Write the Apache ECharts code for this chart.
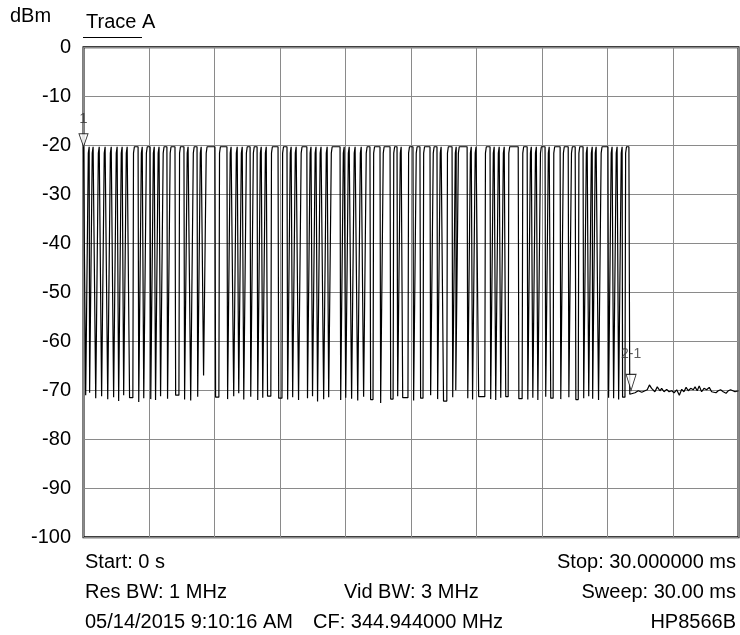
<!DOCTYPE html>
<html>
<head>
<meta charset="utf-8">
<script src="https://cdn.jsdelivr.net/npm/echarts@6/dist/echarts.min.js"></script>
<style>
html,body{margin:0;padding:0;background:#fff;}
#chart{width:740px;height:635px;}
</style>
</head>
<body>
<div id="chart"></div>
<script>
// ---- values (time in ms, level in dBm) ----
const yTicks = [0, -10, -20, -30, -40, -50, -60, -70, -80, -90, -100];
const highLevel = -20.3;
const dropStart = [0.07,0.25,0.53,0.80,1.08,1.35,1.58,1.81,2.08,2.50,
  2.73,3.05,3.27,3.50,3.82,4.19,4.60,4.88,5.20,5.47,
  6.02,6.57,6.85,7.08,7.31,7.63,7.95,8.18,8.40,8.91,
  9.32,9.55,9.82,10.23,10.46,10.69,10.97,11.20,11.75,11.98,
  12.25,12.53,12.80,13.12,13.58,14.04,14.36,14.59,15.09,15.41,
  15.87,16.19,16.46,16.88,17.02,17.57,17.79,18.07,18.62,18.85,
  19.08,19.31,19.91,20.32,20.55,20.78,21.14,21.37,21.83,22.20,
  22.52,22.88,23.11,23.29,23.56,24.02,24.25,24.48,24.66];
const dropWidth = [0.15,0.15,0.15,0.15,0.15,0.15,0.15,0.15,0.21,0.15,
  0.15,0.15,0.15,0.15,0.15,0.21,0.15,0.15,0.15,0.15,
  0.21,0.15,0.15,0.15,0.15,0.15,0.15,0.15,0.21,0.21,
  0.15,0.15,0.15,0.15,0.15,0.15,0.15,0.15,0.15,0.15,
  0.15,0.15,0.15,0.17,0.15,0.17,0.15,0.30,0.15,0.17,
  0.15,0.15,0.21,0.15,0.15,0.15,0.15,0.34,0.15,0.15,
  0.15,0.17,0.21,0.15,0.15,0.15,0.15,0.17,0.15,0.15,
  0.17,0.15,0.15,0.15,0.15,0.15,0.15,0.15,0.17];
const dropLow = [-71.0,-70.5,-71.6,-71.2,-71.8,-71.4,-72.2,-71.0,-71.5,-72.4,
  -71.6,-71.8,-72.0,-71.2,-71.7,-71.0,-71.9,-72.1,-71.3,-67.0,
  -71.4,-71.8,-71.2,-70.6,-71.9,-71.3,-72.0,-71.5,-71.2,-71.6,
  -71.9,-71.4,-72.0,-71.6,-71.2,-72.3,-71.8,-71.4,-72.0,-71.5,
  -71.7,-72.1,-71.3,-71.9,-72.6,-71.8,-71.2,-71.5,-72.1,-71.6,
  -71.0,-71.8,-72.2,-71.4,-70.0,-71.6,-71.9,-71.3,-71.8,-72.0,
  -71.5,-71.3,-71.7,-71.9,-71.5,-72.0,-71.3,-71.6,-71.8,-71.4,
  -71.9,-71.6,-71.2,-71.7,-72.0,-71.5,-71.6,-71.9,-71.4];
const burstEnd = 24.98;
const tailTime = [25.02,25.11,25.26,25.41,25.57,25.72,25.82,25.92,26.02,26.10,
  26.17,26.28,26.40,26.48,26.59,26.71,26.82,26.94,27.05,27.17,
  27.29,27.40,27.50,27.60,27.70,27.81,27.93,28.01,28.11,28.20,
  28.31,28.42,28.54,28.66,28.77,28.84,28.97,29.07,29.18,29.30,
  29.43,29.53,29.64,29.73,29.84,29.92,30.00];
const tailLevel = [-70.8,-70.6,-70.5,-70.1,-70.4,-70.1,-69.9,-68.9,-69.6,-69.3,
  -70.3,-69.3,-70.1,-69.6,-70.3,-69.8,-70.3,-70.1,-70.5,-69.9,
  -71.0,-69.8,-70.3,-69.4,-70.1,-69.6,-69.9,-69.3,-70.1,-69.1,
  -70.3,-69.6,-69.9,-69.4,-70.3,-69.9,-70.5,-70.1,-69.9,-70.3,
  -70.6,-70.1,-69.9,-69.6,-70.3,-69.9,-70.1];
const markerTime = [0.0, 25.08];
const markerLevel = [-20.3, -70.0];
const markerName = ['1', '2-1'];

// ---- build the trace table ----
const trace = [[0, highLevel]];
for (let i = 0; i < dropStart.length; i++) {
  const s = dropStart[i], w = dropWidth[i], lo = dropLow[i];
  trace.push([s, highLevel]);
  trace.push([s + 0.03, lo]);
  trace.push([s + w - 0.03, lo]);
  trace.push([s + w, -21.6]);
  trace.push([s + w + 0.04, highLevel]);
}
trace.push([burstEnd, highLevel]);
for (let i = 0; i < tailTime.length; i++) trace.push([tailTime[i], tailLevel[i]]);

const FONT = '"Liberation Sans", Arial, sans-serif';
const chart = echarts.init(document.getElementById('chart'), null, {renderer: 'canvas'});
chart.setOption({
  animation: false,
  backgroundColor: '#fff',
  grid: {left: 83.5, right: 1.5, top: 47.3, height: 490, show: true,
         borderColor: '#000', borderWidth: 2, backgroundColor: 'transparent'},
  xAxis: {type: 'value', min: 0, max: 30, interval: 3,
    axisLabel: {show: false}, axisTick: {show: false}, axisLine: {show: false},
    splitLine: {show: true, lineStyle: {color: '#8a8a8a', width: 1}}},
  yAxis: {type: 'value', min: -100, max: 0, interval: 10,
    axisLabel: {show: true, fontSize: 20, fontFamily: FONT, color: '#000', margin: 12.5,
      formatter: v => String(yTicks.find(t => t === v))},
    axisTick: {show: false}, axisLine: {show: false},
    splitLine: {show: true, lineStyle: {color: '#8a8a8a', width: 1}}},
  series: [
    {type: 'line', data: trace, showSymbol: false, symbol: 'none', sampling: null,
     lineStyle: {color: '#000', width: 1.2}, z: 3, silent: true},
    {type: 'scatter', z: 4, silent: true,
     data: [
       {value: [markerTime[0], markerLevel[0]], symbolSize: [9, 13], symbolOffset: [0, -6.5],
        label: {show: true, formatter: markerName[0], position: 'top', distance: 7,
                fontSize: 15, fontFamily: FONT, color: '#333'}},
       {value: [markerTime[1], markerLevel[1]], symbolSize: [10, 16], symbolOffset: [0, -8],
        label: {show: true, formatter: markerName[1], position: 'top', distance: 13,
                fontSize: 14, fontFamily: FONT, color: '#333'}}
     ],
     symbol: 'path://M0,0L10,0L5,16Z', symbolKeepAspect: false,
     itemStyle: {color: '#fff', borderColor: '#000', borderWidth: 1}}
  ],
  graphic: [
    {type: 'text', x: 10, y: 16, style: {text: 'dBm', font: '20px ' + FONT, fill: '#000', textAlign: 'left', textVerticalAlign: 'middle', verticalAlign: 'middle'}},
    {type: 'text', x: 86, y: 22, style: {text: 'Trace A', font: '20px ' + FONT, fill: '#000', textAlign: 'left', textVerticalAlign: 'middle', verticalAlign: 'middle'}},
    {type: 'line', shape: {x1: 83, y1: 37.5, x2: 142, y2: 37.5}, style: {stroke: '#000', lineWidth: 1}},
    {type: 'text', x: 85, y: 562, style: {text: 'Start: 0 s', font: '20px ' + FONT, fill: '#000', textAlign: 'left', textVerticalAlign: 'middle', verticalAlign: 'middle'}},
    {type: 'text', x: 736, y: 562, style: {text: 'Stop: 30.000000 ms', font: '20px ' + FONT, fill: '#000', textAlign: 'right', textVerticalAlign: 'middle', verticalAlign: 'middle'}},
    {type: 'text', x: 85, y: 592, style: {text: 'Res BW: 1 MHz', font: '20px ' + FONT, fill: '#000', textAlign: 'left', textVerticalAlign: 'middle', verticalAlign: 'middle'}},
    {type: 'text', x: 344, y: 592, style: {text: 'Vid BW: 3 MHz', font: '20px ' + FONT, fill: '#000', textAlign: 'left', textVerticalAlign: 'middle', verticalAlign: 'middle'}},
    {type: 'text', x: 736, y: 592, style: {text: 'Sweep: 30.00 ms', font: '20px ' + FONT, fill: '#000', textAlign: 'right', textVerticalAlign: 'middle', verticalAlign: 'middle'}},
    {type: 'text', x: 85, y: 622.5, style: {text: '05/14/2015 9:10:16 AM', font: '20px ' + FONT, fill: '#000', textAlign: 'left', textVerticalAlign: 'middle', verticalAlign: 'middle'}},
    {type: 'text', x: 313, y: 622.5, style: {text: 'CF: 344.944000 MHz', font: '20px ' + FONT, fill: '#000', textAlign: 'left', textVerticalAlign: 'middle', verticalAlign: 'middle'}},
    {type: 'text', x: 736, y: 622.5, style: {text: 'HP8566B', font: '20px ' + FONT, fill: '#000', textAlign: 'right', textVerticalAlign: 'middle', verticalAlign: 'middle'}}
  ]
});
</script>
</body>
</html>
